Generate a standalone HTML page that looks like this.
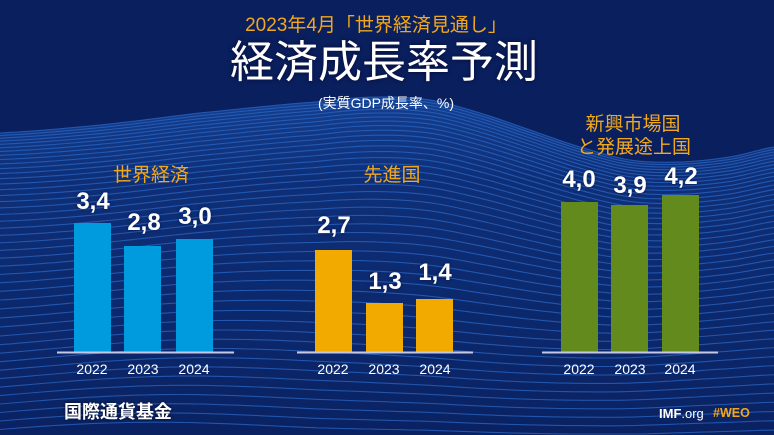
<!DOCTYPE html>
<html><head><meta charset="utf-8">
<style>
html,body{margin:0;padding:0;width:774px;height:435px;overflow:hidden;}
body{background:#0a1f5e;position:relative;font-family:"Liberation Sans","Noto Sans CJK JP",sans-serif;}
svg{position:absolute;left:0;top:0;overflow:hidden;}
.t{position:absolute;white-space:nowrap;text-align:center;line-height:1;}
.or{color:#f2a81d;}
.wh{color:#fff;}
.v{font-weight:bold;font-size:24px;color:#fff;width:80px;text-shadow:0 0 3px rgba(0,10,50,.6);}
.y{font-size:14px;color:#fff;width:60px;}
.g{font-size:19px;color:#f2a81d;width:200px;}
</style></head><body>
<svg id="bg" width="774" height="435" viewBox="0 0 774 435">
<defs>
<linearGradient id="wg" x1="0" y1="95" x2="0" y2="435" gradientUnits="userSpaceOnUse">
<stop offset="0" stop-color="#143f90"/>
<stop offset="0.25" stop-color="#0e2f78"/>
<stop offset="1" stop-color="#0a2262"/>
</linearGradient>
<clipPath id="cp"><rect x="0" y="0" width="774" height="435"/></clipPath>
</defs>
<g clip-path="url(#cp)">
<path id="wfill" fill="url(#wg)" d=""/>
<g id="wlines" fill="none" stroke="#2b66c2" stroke-width="1.1" stroke-opacity="0.75"></g>
</g>
<g id="bars">
<rect x="74" y="223" width="37" height="129" fill="#009bdf"/>
<rect x="124" y="246" width="37" height="106" fill="#009bdf"/>
<rect x="176" y="239" width="37" height="113" fill="#009bdf"/>
<rect x="315" y="250" width="37" height="102" fill="#f2a900"/>
<rect x="366" y="303" width="37" height="49" fill="#f2a900"/>
<rect x="416" y="299" width="37" height="53" fill="#f2a900"/>
<rect x="561" y="202" width="37" height="150" fill="#628a1c"/>
<rect x="611" y="205" width="37" height="147" fill="#628a1c"/>
<rect x="662" y="195" width="37" height="157" fill="#628a1c"/>
<rect x="57" y="351.5" width="177" height="2" fill="#c5c9e6"/>
<rect x="297" y="351.5" width="176" height="2" fill="#c5c9e6"/>
<rect x="542" y="351.5" width="176" height="2" fill="#c5c9e6"/>
</g>
</svg>
<script>
(function(){
var pts=[[-20,135],[0,133],[100,125],[200,113],[316,102],[376,97],[430,100],[480,113],[530,130],[580,147],[630,160],[680,162],[730,157],[774,147],[800,142]];
function B(x){
  var i=0; while(i<pts.length-2 && x>pts[i+1][0]) i++;
  var p0=pts[Math.max(0,i-1)],p1=pts[i],p2=pts[i+1],p3=pts[Math.min(pts.length-1,i+2)];
  var t=(x-p1[0])/(p2[0]-p1[0]);var t2=t*t,t3=t2*t;
  return 0.5*((2*p1[1])+(-p0[1]+p2[1])*t+(2*p0[1]-5*p1[1]+4*p2[1]-p3[1])*t2+(-p0[1]+3*p1[1]-3*p2[1]+p3[1])*t3);
}
var d="M0,"+B(0).toFixed(1);
for(var x=5;x<=774;x+=5){d+=" L"+x+","+B(x).toFixed(1);}
d+=" L774,"+B(774).toFixed(1)+" L774,435 L0,435 Z";
document.getElementById('wfill').setAttribute('d',d);
var g=document.getElementById('wlines');var html="";
var off=0;
for(var k=0;k<120;k++){
  if(off>300)break;
  var w=Math.min(1,off/200)*0.75;
  var p="";
  for(var x=0;x<=774;x+=6){
    var y=B(x)*(1-w)+140*w+off+w*9*Math.sin(x/95+k*0.08);
    if(y>434)y=434;
    p+=(x==0?"M":" L")+x+","+y.toFixed(1);
  }
  html+='<path d="'+p+'"/>';
  off+=Math.min(9,2.4+k*0.22);
}
g.innerHTML=html;
})();
</script>

<div class="t or" style="left:176px;width:400px;top:16px;font-size:19px;">2023年4月「世界経済見通し」</div>
<div class="t wh" style="left:184px;width:400px;top:41px;font-size:44px;text-shadow:0 0 4px rgba(0,0,30,.7);">経済成長率予測</div>
<div class="t wh" style="left:286px;width:200px;top:96px;font-size:14px;">(実質GDP成長率、%)</div>

<div class="t g" style="left:51px;top:166px;">世界経済</div>
<div class="t g" style="left:292px;top:166px;">先進国</div>
<div class="t g" style="left:533px;top:115px;">新興市場国</div>
<div class="t g" style="left:534px;top:138px;">と発展途上国</div>

<div class="t v" style="left:53px;top:190px;">3,4</div>
<div class="t v" style="left:104px;top:211px;">2,8</div>
<div class="t v" style="left:155px;top:205px;">3,0</div>
<div class="t v" style="left:294px;top:214px;">2,7</div>
<div class="t v" style="left:345px;top:270px;">1,3</div>
<div class="t v" style="left:395px;top:261px;">1,4</div>
<div class="t v" style="left:539px;top:168px;">4,0</div>
<div class="t v" style="left:590px;top:174px;">3,9</div>
<div class="t v" style="left:641px;top:165px;">4,2</div>

<div class="t y" style="left:62px;top:362px;">2022</div>
<div class="t y" style="left:113px;top:362px;">2023</div>
<div class="t y" style="left:164px;top:362px;">2024</div>
<div class="t y" style="left:303px;top:362px;">2022</div>
<div class="t y" style="left:354px;top:362px;">2023</div>
<div class="t y" style="left:405px;top:362px;">2024</div>
<div class="t y" style="left:549px;top:362px;">2022</div>
<div class="t y" style="left:600px;top:362px;">2023</div>
<div class="t y" style="left:650px;top:362px;">2024</div>

<div class="t wh" style="left:64px;top:403px;font-size:18px;font-weight:bold;text-align:left;text-shadow:0 0 3px rgba(0,0,20,.8);">国際通貨基金</div>
<div class="t" style="left:659px;top:407px;font-size:13px;text-align:left;color:#fff;"><b>IMF</b>.org</div>
<div class="t" style="left:713px;top:407px;font-size:12.5px;text-align:left;color:#f2a81d;font-weight:bold;">#WEO</div>
</body></html>
